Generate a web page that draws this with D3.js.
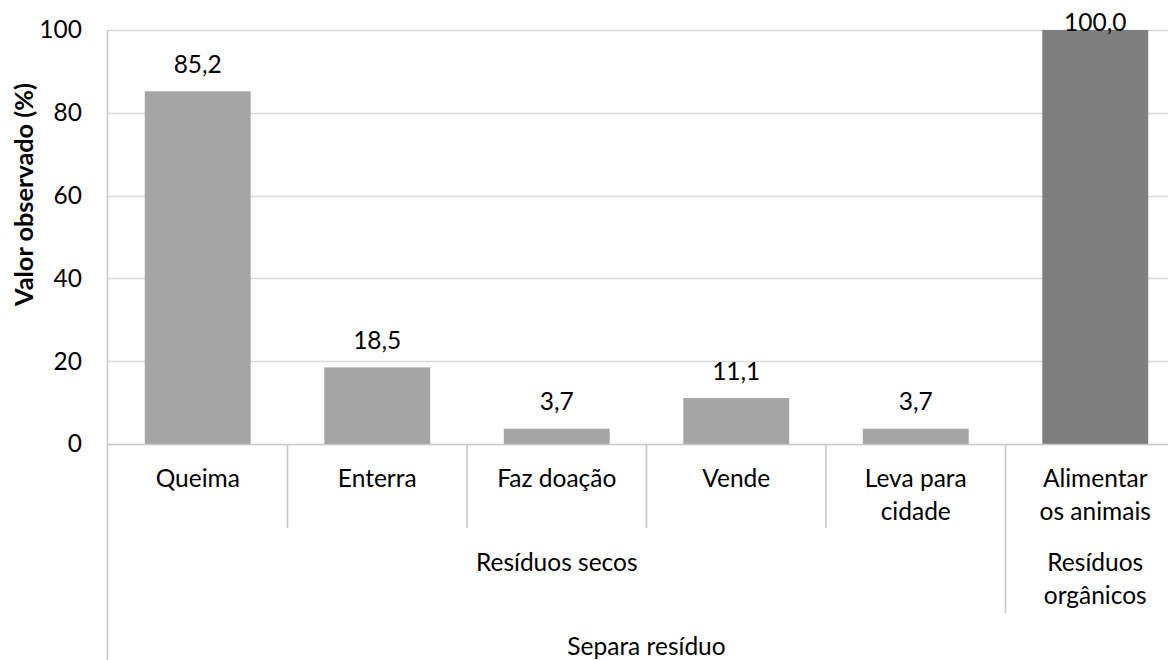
<!DOCTYPE html>
<html>
<head>
<meta charset="utf-8">
<script src="https://cdn.jsdelivr.net/npm/d3@7"></script>
<style>
  html, body { margin: 0; padding: 0; background: #fff; overflow: hidden; }
  svg { display: block; font-family: Lato, "Open Sans", sans-serif; }
</style>
</head>
<body>
<svg id="chart" width="1168" height="660"></svg>
<script>
// ---- data ----
const categories = ["Queima", "Enterra", "Faz doação", "Vende", "Leva para\ncidade", "Alimentar\nos animais"];
const values = [85.2, 18.5, 3.7, 11.1, 3.7, 100.0];
const barGroup = [0, 0, 0, 0, 0, 1];
const groupNames = ["Resíduos secos", "Resíduos\norgânicos"];
const groupSizes = [5, 1];
const topLabel = "Separa resíduo";
const yTicks = [0, 20, 40, 60, 80, 100];
const yTitle = "Valor observado (%)";

// ---- layout ----
const svg = d3.select("#chart");
const mLeft = 108, mRight = 1185, mTop = 30, mBottom = 444;
const fontSize = 24.5;
const barColors = ["#a5a5a5", "#7f7f7f"];
const gridColor = "#d9d9d9", axisColor = "#c6c6c6";

const x = d3.scaleBand().domain(categories).range([mLeft, mRight]).paddingInner(0.41).paddingOuter(0.205);
const y = d3.scaleLinear().domain([0, 100]).range([mBottom, mTop]);
const step = x.step();
const locale = d3.formatLocale({decimal: ",", thousands: ".", grouping: [3], currency: ["", ""]});
const fmt = locale.format(".1f");

// gridlines
svg.append("g").selectAll("line").data(yTicks.filter(d => d > 0)).join("line")
  .attr("x1", mLeft).attr("x2", mRight)
  .attr("y1", d => Math.round(y(d)) + 0.5).attr("y2", d => Math.round(y(d)) + 0.5)
  .attr("stroke", gridColor).attr("stroke-width", 1.5);

// y tick labels via axis
const yAxis = svg.append("g").attr("transform", `translate(${mLeft},0)`)
  .call(d3.axisLeft(y).tickValues(yTicks).tickSize(0).tickPadding(26).tickFormat(d3.format("d")));
yAxis.select(".domain").remove();
yAxis.selectAll("text").attr("font-size", fontSize).attr("fill", "#000")
  .attr("font-family", "Lato, 'Open Sans', sans-serif");

// bars
svg.append("g").selectAll("rect").data(values).join("rect")
  .attr("x", (d, i) => x(categories[i]))
  .attr("width", x.bandwidth())
  .attr("y", d => y(d))
  .attr("height", d => y(0) - y(d))
  .attr("fill", (d, i) => barColors[barGroup[i]]);

// value labels
svg.append("g").selectAll("text").data(values).join("text")
  .attr("x", (d, i) => x(categories[i]) + x.bandwidth() / 2)
  .attr("y", d => Math.max(y(d) - 18.5, 31))
  .attr("text-anchor", "middle").attr("font-size", fontSize).attr("fill", "#000")
  .text(d => fmt(d));

// axis lines
svg.append("line").attr("x1", mLeft).attr("x2", mRight).attr("y1", mBottom + 0.5).attr("y2", mBottom + 0.5)
  .attr("stroke", axisColor).attr("stroke-width", 1.5);
svg.append("line").attr("x1", mLeft - 0.5).attr("x2", mLeft - 0.5).attr("y1", mTop).attr("y2", 660)
  .attr("stroke", axisColor).attr("stroke-width", 1.5);

// category level dividers and labels
const row1Bottom = 528, row2Bottom = 613;
const lineH = 32.5;
const groupStarts = groupSizes.map((s, i) => d3.sum(groupSizes.slice(0, i)));
const groupBoundaries = groupStarts.slice(1);
for (let i = 1; i <= categories.length; i++) {
  const xx = mLeft + i * step;
  const isGroupEdge = groupBoundaries.includes(i) || i === categories.length;
  svg.append("line").attr("x1", xx).attr("x2", xx).attr("y1", mBottom)
    .attr("y2", isGroupEdge ? row2Bottom : row1Bottom)
    .attr("stroke", axisColor).attr("stroke-width", 1.5);
}
const cat = svg.append("g");
categories.forEach((c, i) => {
  const cx = x(c) + x.bandwidth() / 2;
  const t = cat.append("text").attr("text-anchor", "middle").attr("font-size", fontSize).attr("fill", "#000")
    .attr("x", cx).attr("y", 487);
  c.split("\n").forEach((l, j) => t.append("tspan").attr("x", cx).attr("dy", j ? lineH : 0).text(l));
});

// group labels
groupNames.forEach((g, i) => {
  const cx = mLeft + (groupStarts[i] + groupSizes[i] / 2) * step;
  const t = svg.append("text").attr("text-anchor", "middle").attr("font-size", fontSize).attr("fill", "#000")
    .attr("x", cx).attr("y", 571);
  g.split("\n").forEach((l, j) => t.append("tspan").attr("x", cx).attr("dy", j ? lineH : 0).text(l));
});

// top label
svg.append("text").attr("text-anchor", "middle").attr("font-size", fontSize).attr("fill", "#000")
  .attr("x", (mLeft + mRight) / 2).attr("y", 655).text(topLabel);

// y title
svg.append("text").attr("transform", "translate(33,194.5) rotate(-90)")
  .attr("text-anchor", "middle").attr("font-size", 25.3).attr("font-weight", "bold").attr("fill", "#000")
  .text(yTitle);
</script>
</body>
</html>
